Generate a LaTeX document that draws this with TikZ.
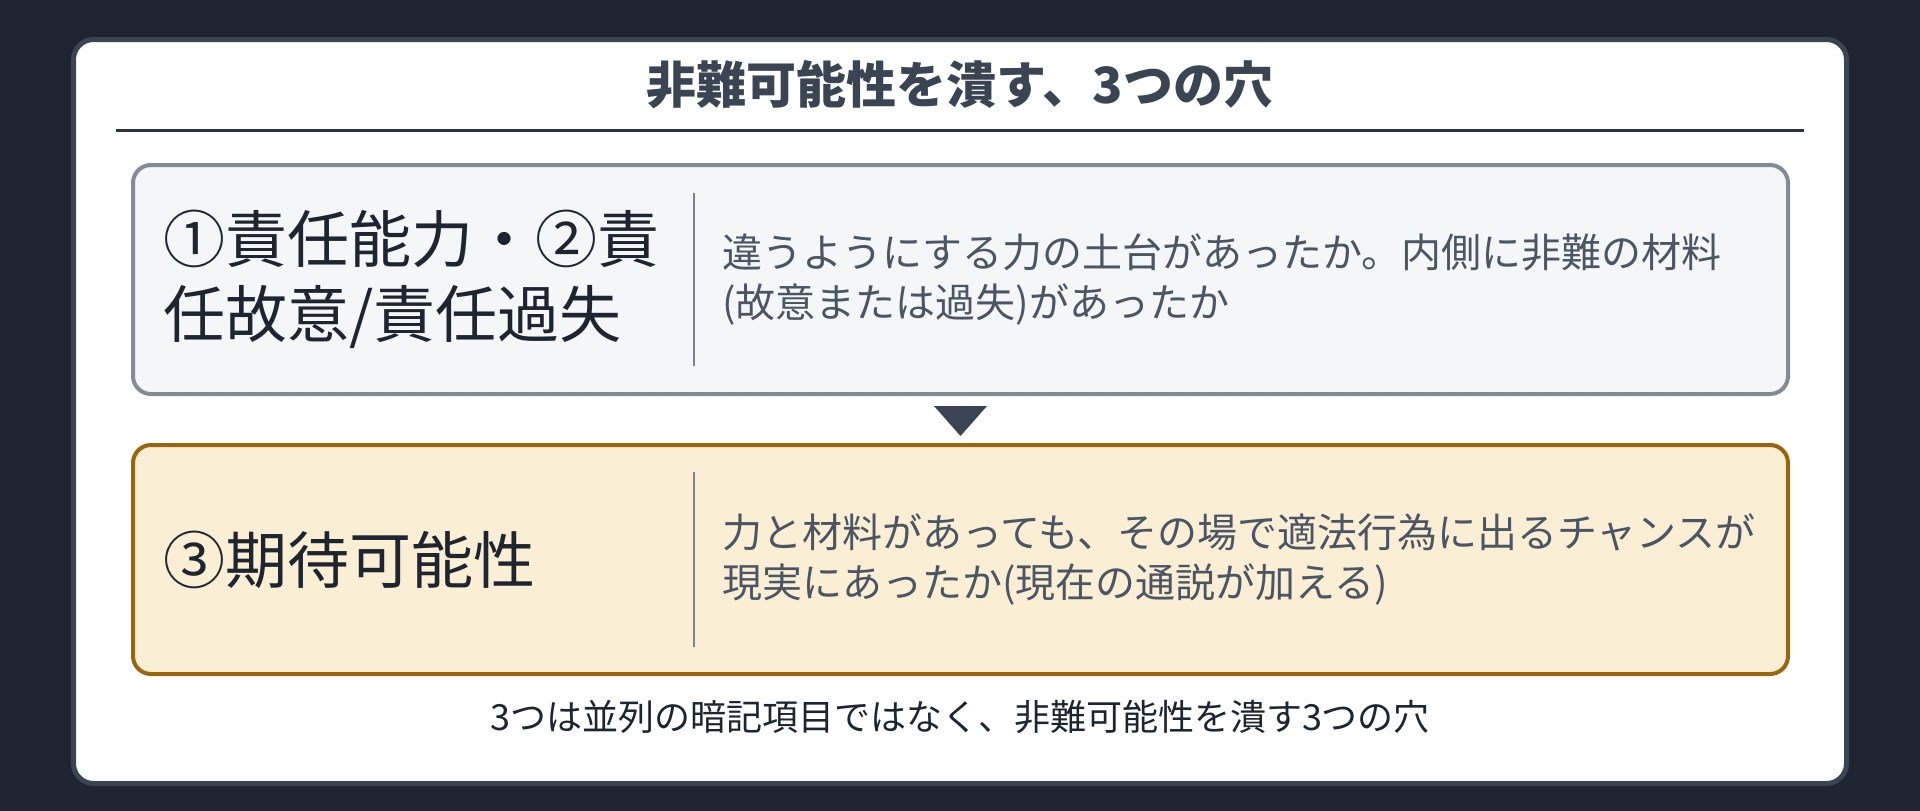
\documentclass[tikz,border=0pt]{standalone}
\usepackage{fontspec}
\setmainfont{Noto Sans CJK JP}
\usetikzlibrary{positioning}

\definecolor{pagebg}{HTML}{1E2530}
\definecolor{cardedge}{HTML}{3B4452}
\definecolor{titlecol}{HTML}{3B4452}
\definecolor{rulecol}{HTML}{2D3440}
\definecolor{grayedge}{HTML}{838B98}
\definecolor{grayfill}{HTML}{F4F6F8}
\definecolor{goldedge}{HTML}{98660C}
\definecolor{goldfill}{HTML}{FAEFD5}
\definecolor{headcol}{HTML}{1E2530}
\definecolor{bodycol}{HTML}{4B5563}
\definecolor{sepcol}{HTML}{7A8291}

\begin{document}
\begin{tikzpicture}[x=1pt,y=-1pt,
  panel/.style={draw,line width=4pt,rounded corners=18pt,
    minimum width=1655pt,minimum height=229pt,inner sep=0pt},
  headtext/.style={anchor=west,inner sep=0pt,align=left,text=headcol,
    font=\fontsize{62}{75}\selectfont},
  bodytext/.style={anchor=west,inner sep=0pt,align=left,text=bodycol,
    font=\fontsize{40}{50}\selectfont},
  sepline/.style={draw=sepcol,line width=2pt}]
\fill[pagebg] (0,0) rectangle (1920,811);
\useasboundingbox (0,0) rectangle (1920,811);
\filldraw[fill=white,draw=cardedge,line width=5pt,rounded corners=20pt]
  (73.5,39.5) rectangle (1846.5,783.5);

% title
\node[text=titlecol,font=\fontsize{50}{60}\selectfont\bfseries] (title) at (960,85)
  {非難可能性を潰す、3つの穴};
\draw[rulecol,line width=3pt] (116,130) -- (1804,130);

% two panels
\node[panel,draw=grayedge,fill=grayfill] (abil) at (960.5,279.5) {};
\node[panel,draw=goldedge,fill=goldfill] (expect) at (960.5,559.5) {};

\node[headtext] (abilhead) at (163,279.5) {①責任能力・②責\\任故意/責任過失};
\node[bodytext] (abilbody) at (722,279.5)
  {違うようにする力の土台があったか。内側に非難の材料\\(故意または過失)があったか};
\draw[sepline] (694,193) -- (694,366);

\node[headtext] (expecthead) at (163,559.5) {③期待可能性};
\node[bodytext] (expectbody) at (722,559.5)
  {力と材料があっても、その場で適法行為に出るチャンスが\\現実にあったか(現在の通説が加える)};
\draw[sepline] (694,472) -- (694,647);

% arrow mark between panels
\fill[cardedge] (934,406) -- (987,406) -- (960.5,436) -- cycle;

% caption
\node[text=headcol,font=\fontsize{36}{42}\selectfont] (caption) at (960,717)
  {3つは並列の暗記項目ではなく、非難可能性を潰す3つの穴};
\end{tikzpicture}
\end{document}
